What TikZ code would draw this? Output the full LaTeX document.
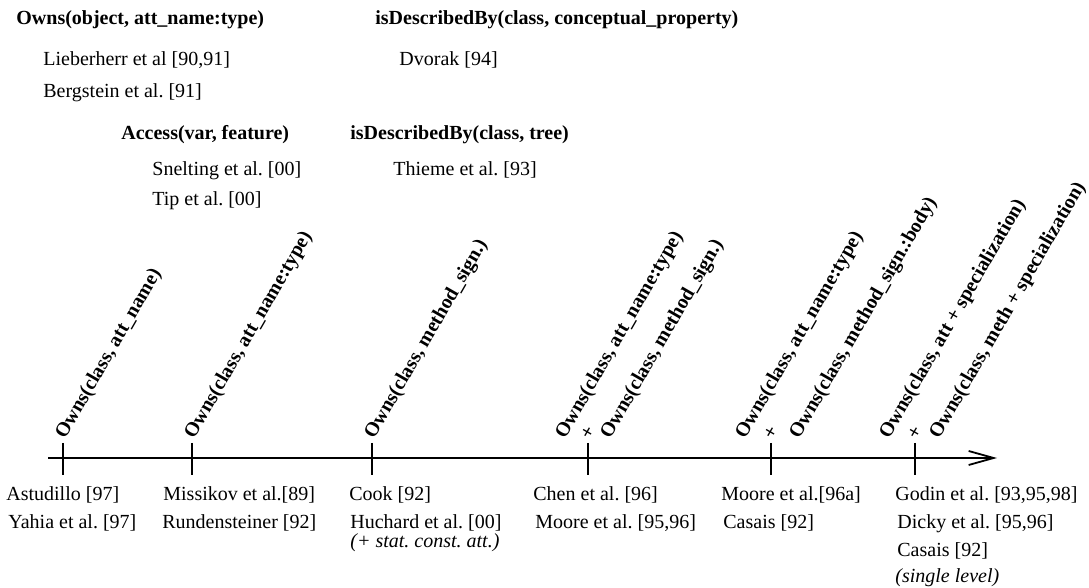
\documentclass[tikz,border=0pt]{standalone}
\usepackage{fontspec}
\setmainfont{Liberation Serif}
\usetikzlibrary{arrows.meta}
\usetikzlibrary{positioning}
\frenchspacing

\tikzset{
  category/.style={font=\bfseries, inner sep=0pt, anchor=base west},
  reference/.style={inner sep=0pt, anchor=base west},
  remark/.style={font=\itshape, inner sep=0pt, anchor=base west},
  owns/.style={font=\bfseries, inner sep=0pt, anchor=base west, rotate=60},
  joiner/.style={font=\bfseries, inner sep=0pt, rotate=60},
  timeline/.style={line width=0.9pt, -{Straight Barb[length=12.5pt,width=7pt]}},
  tickmark/.style={line width=0.6pt},
}

\begin{document}
\begin{tikzpicture}[x=0.5pt, y=-0.5pt]
			\useasboundingbox (0,0) rectangle (1089,588);

			\node[category] (OwnsObject) at (16,25) {Owns(object, att\_name:type)};
			\node[reference] (Lieberherr) [below right=20.5pt and 13.5pt of OwnsObject.base west, anchor=base west] {Lieberherr et al [90,91]};
			\node[reference] (Bergstein) [below=16pt of Lieberherr.base west, anchor=base west] {Bergstein et al. [91]};

			\node[category] (AccessVar) at (121,140) {Access(var, feature)};
			\node[reference] (Snelting) [below right=18pt and 15.5pt of AccessVar.base west, anchor=base west] {Snelting et al. [00]};
			\node[reference] (Tip) [below=15pt of Snelting.base west, anchor=base west] {Tip et al. [00]};

			\node[category] (DescribedConcept) at (375,25) {isDescribedBy(class, conceptual\_property)};
			\node[reference] (Dvorak) [below right=20.5pt and 12pt of DescribedConcept.base west, anchor=base west] {Dvorak [94]};

			\node[category] (DescribedTree) at (350,140) {isDescribedBy(class, tree)};
			\node[reference] (Thieme) [below right=18pt and 21.5pt of DescribedTree.base west, anchor=base west] {Thieme et al. [93]};

			% time line
			\coordinate (TimeStart) at (48,458);
			\coordinate (TimeEnd) at (997,458);
			\draw[timeline] (TimeStart) -- (TimeEnd);

			\draw[tickmark] (63,443) -- (63,475);
			\draw[tickmark] (192,443) -- (192,475);
			\draw[tickmark] (372,443) -- (372,475);
			\draw[tickmark] (588,443) -- (588,475);
			\draw[tickmark] (771,443) -- (771,475);
			\draw[tickmark] (915,443) -- (915,475);

			\node[owns] (AstudilloOwns) at (65,440) {Owns(class, att\_name)};
			\node[owns] (MissikovOwns) at (194,440) {Owns(class, att\_name:type)};
			\node[owns] (CookOwns) at (374,440) {Owns(class, method\_sign.)};
			\node[owns] (ChenOwnsAtt) at (565,440) {Owns(class, att\_name:type)};
			\node[joiner] (ChenPlus) at (588,433) {+};
			\node[owns] (ChenOwnsMeth) at (610,440) {Owns(class, method\_sign.)};
			\node[owns] (MooreOwnsAtt) at (745,440) {Owns(class, att\_name:type)};
			\node[joiner] (MoorePlus) at (771,433) {+};
			\node[owns] (MooreOwnsMeth) at (799,440) {Owns(class, method\_sign.:body)};
			\node[owns] (GodinOwnsAtt) at (889,440) {Owns(class, att + specialization)};
			\node[joiner] (GodinPlus) at (915,433) {+};
			\node[owns] (GodinOwnsMeth) at (939,440) {Owns(class, meth + specialization)};

			\node[reference] (Astudillo) at (6,501) {Astudillo [97]};
			\node[reference] (Yahia) [below right=14pt and 1pt of Astudillo.base west, anchor=base west] {Yahia et al. [97]};

			\node[reference] (Missikov) at (163,501) {Missikov et al.[89]};
			\node[reference] (Rundensteiner) [below right=14pt and -0.5pt of Missikov.base west, anchor=base west] {Rundensteiner [92]};

			\node[reference] (Cook) at (349,501) {Cook [92]};
			\node[reference] (Huchard) [below right=14pt and 0.5pt of Cook.base west, anchor=base west] {Huchard et al. [00]};
			\node[remark] (HuchardNote) [below=9.5pt of Huchard.base west, anchor=base west] {(+ stat. const. att.)};

			\node[reference] (Chen) at (533,501) {Chen et al. [96]};
			\node[reference] (MooreB) [below right=14pt and 1pt of Chen.base west, anchor=base west] {Moore et al. [95,96]};

			\node[reference] (MooreA) at (721,501) {Moore et al.[96a]};
			\node[reference] (CasaisA) [below right=14pt and 1pt of MooreA.base west, anchor=base west] {Casais [92]};

			\node[reference] (Godin) at (895,501) {Godin et al. [93,95,98]};
			\node[reference] (Dicky) [below right=14pt and 1pt of Godin.base west, anchor=base west] {Dicky et al. [95,96]};
			\node[reference] (CasaisB) [below=14pt of Dicky.base west, anchor=base west] {Casais [92]};
			\node[remark] (SingleLevel) [below right=13pt and -1pt of CasaisB.base west, anchor=base west] {(single level)};

		\end{tikzpicture}
\end{document}
